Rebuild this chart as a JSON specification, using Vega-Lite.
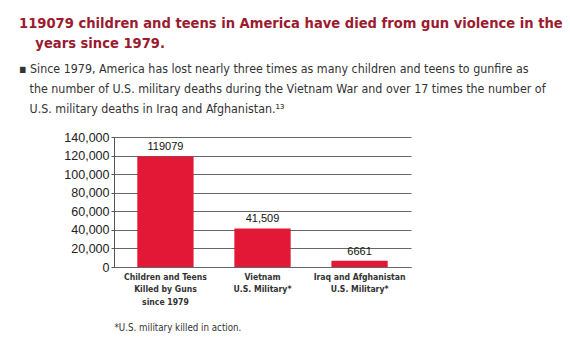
{
  "$schema": "https://vega.github.io/schema/vega-lite/v6.json",
  "autosize": "none",
  "width": 297,
  "height": 130,
  "padding": {"left": 114, "top": 137, "right": 159, "bottom": 70},
  "background": "#ffffff",
  "title": {
    "text": ["119079 children and teens in America have died from gun violence in the", "\u200b\u00a0\u00a0\u00a0\u2009years since 1979."],
    "subtitle": ["\u25aa Since 1979, America has lost nearly three times as many children and teens to gunfire as", "\u200b\u00a0\u00a0\u00a0the number of U.S. military deaths during the Vietnam War and over 17 times the number of", "\u200b\u00a0\u00a0\u00a0U.S. military deaths in Iraq and Afghanistan.\u00b9\u00b3"],
    "anchor": "start",
    "frame": "group",
    "dx": -95,
    "offset": 16,
    "font": "DejaVu Sans Condensed",
    "fontSize": 14.6,
    "fontWeight": "bold",
    "color": "#9B1B30",
    "lineHeight": 20,
    "subtitleFont": "DejaVu Sans Condensed",
    "subtitleFontSize": 12.35,
    "subtitleColor": "#333333",
    "subtitleLineHeight": 20,
    "subtitlePadding": 12
  },
  "data": {
    "values": [
      {"group": "Children and Teens|Killed by Guns|since 1979", "deaths": 119079, "label": "119079"},
      {"group": "Vietnam|U.S. Military*", "deaths": 41509, "label": "41,509"},
      {"group": "Iraq and Afghanistan|U.S. Military*", "deaths": 6661, "label": "6661"}
    ]
  },
  "encoding": {
    "x": {
      "field": "group",
      "type": "nominal",
      "sort": null,
      "scale": {"paddingInner": 0.42, "paddingOuter": 0.24},
      "axis": {
        "title": "*U.S. military killed in action.",
        "titleAnchor": "start",
        "titleAlign": "left",
        "titleFont": "DejaVu Sans Condensed",
        "titleFontSize": 9.7,
        "titleFontWeight": "normal",
        "titleColor": "#333333",
        "titlePadding": 17,
        "labelAngle": 0,
        "labelExpr": "split(datum.label, '|')",
        "labelFont": "DejaVu Sans Condensed",
        "labelFontSize": 8.6,
        "labelFontWeight": "bold",
        "labelColor": "#333333",
        "labelLineHeight": 12.5,
        "labelPadding": 5,
        "ticks": false,
        "domainColor": "#666666",
        "grid": false
      }
    },
    "y": {
      "field": "deaths",
      "type": "quantitative",
      "scale": {"domain": [0, 140000], "nice": false},
      "axis": {
        "title": null,
        "values": [0, 20000, 40000, 60000, 80000, 100000, 120000, 140000],
        "format": ",d",
        "labelFont": "Liberation Sans",
        "labelFontSize": 12.5,
        "labelColor": "#222222",
        "labelPadding": 2,
        "tickSize": 3,
        "tickColor": "#555555",
        "domainColor": "#555555",
        "grid": true,
        "gridColor": "#666666",
        "gridWidth": 1
      }
    }
  },
  "layer": [
    {"mark": {"type": "bar", "color": "#E31837"}},
    {
      "mark": {"type": "text", "baseline": "bottom", "dy": -4, "font": "Liberation Sans", "fontSize": 11, "color": "#111111"},
      "encoding": {"text": {"field": "label", "type": "nominal"}}
    }
  ],
  "config": {"view": {"stroke": null}}
}
